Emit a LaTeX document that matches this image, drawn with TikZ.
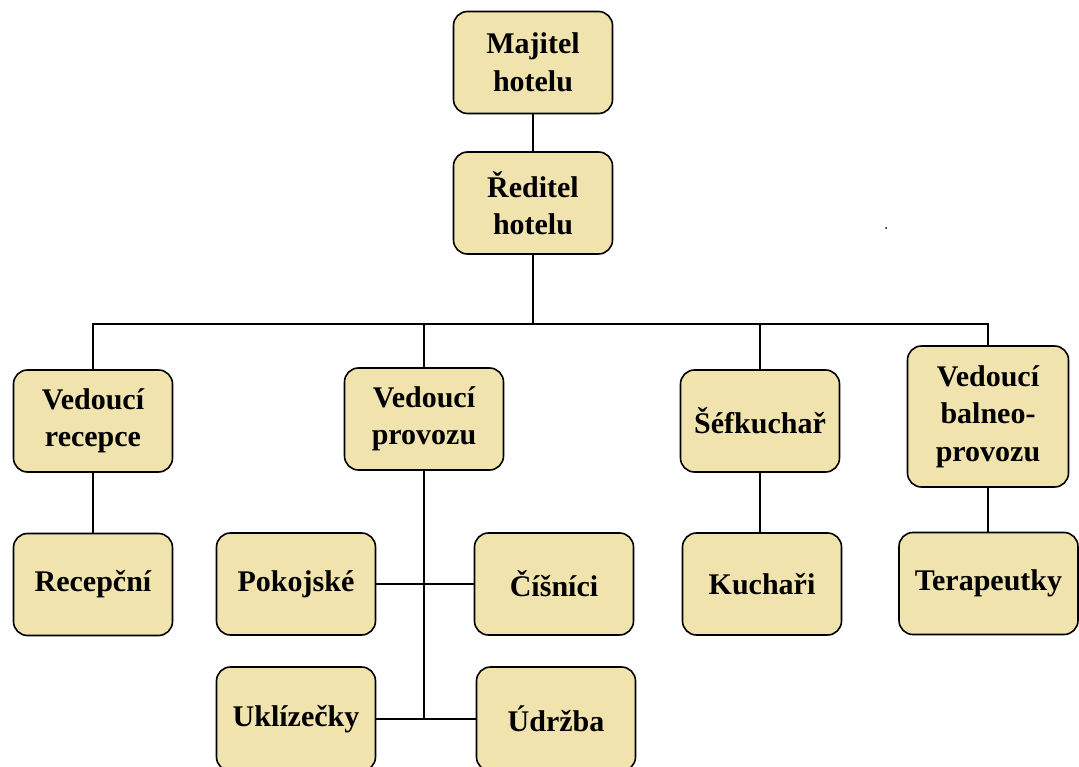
\documentclass[tikz,border=0pt]{standalone}
\usepackage{fontspec}
\setmainfont{Liberation Serif}
\definecolor{boxfill}{HTML}{F0E3AE}
\begin{document}
\begin{tikzpicture}[x=1pt,y=-1pt,
  box/.style={draw=black, line width=1.6pt, fill=boxfill, rounded corners=14pt,
    align=center, inner sep=0pt, minimum width=159pt, minimum height=102pt,
    font=\fontsize{30}{37.5}\selectfont\bfseries},
  link/.style={draw=black, line width=1.8pt}]
\useasboundingbox (0,0) rectangle (1079,767);
% nodes
\node[box] (maj) at (533,62.5) {Majitel\\hotelu};
\node[box] (red) at (533,203) {Ředitel\\hotelu};
\node[box] (vrec) at (93,421) {Vedoucí\\recepce};
\node[box] (vprov) at (424,419) {Vedoucí\\provozu};
\node[box] (sef) at (760,421) {Šéfkuchař};
\node[box, minimum width=161pt, minimum height=141pt] (vbal) at (988,416.5) {Vedoucí\\balneo-\\provozu};
\node[box] (recp) at (93,584.5) {Recepční};
\node[box] (pok) at (296,584) {Pokojské};
\node[box] (cis) at (554,584) {Číšníci};
\node[box, minimum height=104pt] (ukl) at (296,719) {Uklízečky};
\node[box, minimum height=104pt] (udr) at (556,719) {Údržba};
\node[box] (kuch) at (762,584) {Kuchaři};
\node[box, minimum width=179pt] (ter) at (988.5,583.5) {Terapeutky};
\coordinate (bus) at (533,324);
% connectors
\draw[link] (maj) -- (red);
\draw[link] (red.south) -- (bus);
\draw[link] (vrec.north) |- (bus) -| (vbal.north);
\draw[link] (vprov.north) -- (vprov.north |- bus);
\draw[link] (sef.north) -- (sef.north |- bus);
\draw[link] (vrec.south) -- (vrec.south |- recp.north);
\draw[link] (sef.south) -- (sef.south |- kuch.north);
\draw[link] (vbal.south) -- (vbal.south |- ter.north);
\draw[link] (vprov.south) -- (vprov.south |- ukl.east);
\draw[link] (pok.east) -- (cis.west);
\draw[link] (ukl.east) -- (udr.west);
% stray dot
\fill (886,228) circle (1pt);
\end{tikzpicture}
\end{document}
